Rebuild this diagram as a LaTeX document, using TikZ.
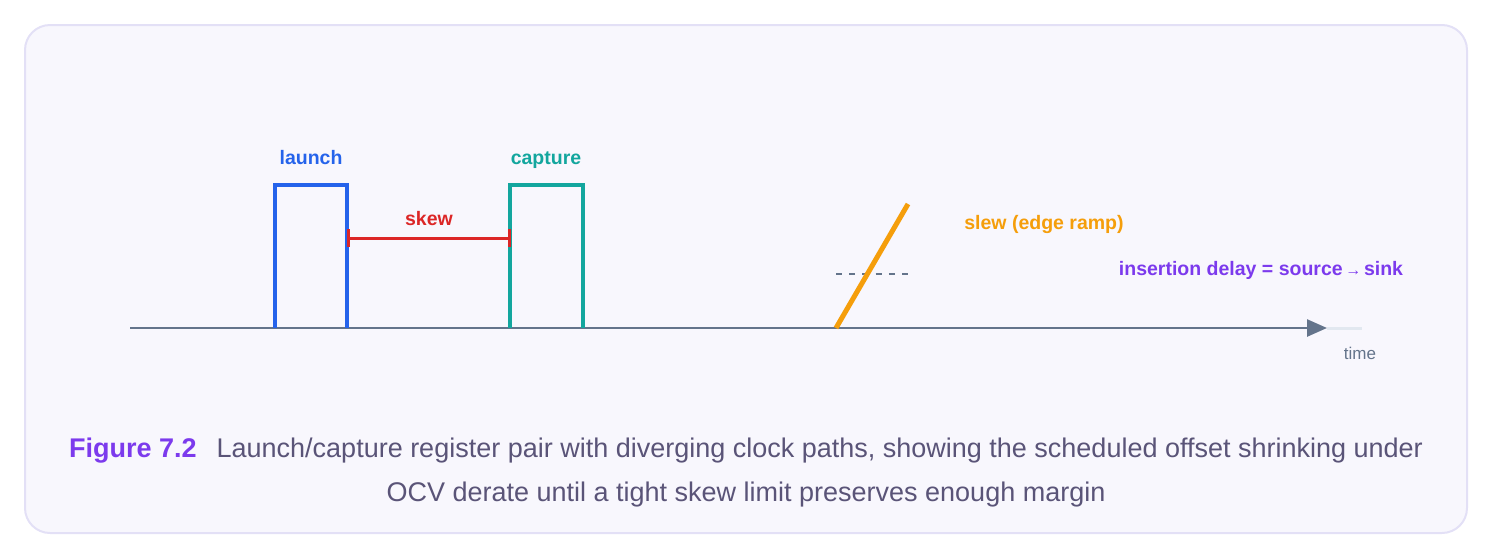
\documentclass[tikz,border=0pt]{standalone}
\usepackage{fontspec}
\setmainfont{Liberation Sans}
\usetikzlibrary{arrows.meta}
\definecolor{launchblue}{HTML}{2563EB}
\definecolor{captureteal}{HTML}{13A69E}
\definecolor{skewred}{HTML}{DC2626}
\definecolor{slewamber}{HTML}{F59E0B}
\definecolor{figpurple}{HTML}{7C3AED}
\definecolor{axisslate}{HTML}{64748B}
\definecolor{axisfade}{HTML}{E2E8F0}
\definecolor{captext}{HTML}{5A5478}
\definecolor{panelfill}{HTML}{F8F7FD}
\definecolor{panelline}{HTML}{E3E0F6}
\begin{document}
\begin{tikzpicture}[x=0.5pt,y=-0.5pt,
    lbl/.style={inner sep=0pt,text depth=0pt,font=\fontsize{9.75}{11}\selectfont\bfseries},
    pulse/.style={line width=2pt,line join=miter},
    captionline/.style={inner sep=0pt,text=captext,font=\fontsize{13.5}{16}\selectfont}]
        \useasboundingbox (0,0) rectangle (1494,558);
        \draw[fill=panelfill,draw=panelline,line width=1pt,rounded corners=12.5pt] (25,25) rectangle (1467,533);
        \coordinate (t0) at (130,328);
        \coordinate (t1) at (1327,328);
        \coordinate (t2) at (1362,328);
        \draw[axisfade,line width=1.5pt] (t1) -- (t2);
        \draw[axisslate,line width=1.25pt,-{Triangle[length=10pt,width=8.5pt]}] (t0) -- (t1);
        \node[inner sep=0pt,text=axisslate,font=\fontsize{8.5}{10}\selectfont] (time) at (1360,353) {time};
        \coordinate (l0) at (275,328); \coordinate (l1) at (347,328);
        \draw[pulse,launchblue] (l0) -- ++(0,-143) -| (l1);
        \node[lbl,text=launchblue] (launch) at (311,157) {launch};
        \coordinate (c0) at (510,328); \coordinate (c1) at (583,328);
        \draw[pulse,captureteal] (c0) -- ++(0,-143) -| (c1);
        \node[lbl,text=captureteal] (capture) at (546,158) {capture};
        \coordinate (s0) at (347,238); \coordinate (s1) at (511,238);
        \draw[skewred,line width=1.5pt,{Bar[width=9pt]}-{Bar[width=9pt]}] (s0) -- (s1);
        \node[lbl,text=skewred] (skew) at (429,218) {skew};
        \coordinate (d0) at (836,274); \coordinate (d1) at (908,274);
        \draw[axisslate,line width=0.75pt,dash pattern=on 3pt off 3.6pt] (d0) -- (d1);
        \coordinate (r0) at (836,328); \coordinate (r1) at (908,204);
        \draw[slewamber,line width=2.5pt] (r0) -- (r1);
        \node[lbl,text=slewamber] (slew) at (1044,222) {slew (edge ramp)};
        \node[lbl,text=figpurple] (insertion) at (1261,268) {insertion delay = source{\fontsize{8}{9}\selectfont\,→\,}sink};
        \node[captionline] (caption1) at (746,451) {{\bfseries\color{figpurple}Figure 7.2}\hspace{10pt}Launch/capture register pair with diverging clock paths, showing the scheduled offset shrinking under};
        \node[captionline] (caption2) at (746,495) {OCV derate until a tight skew limit preserves enough margin};
\end{tikzpicture}
\end{document}
